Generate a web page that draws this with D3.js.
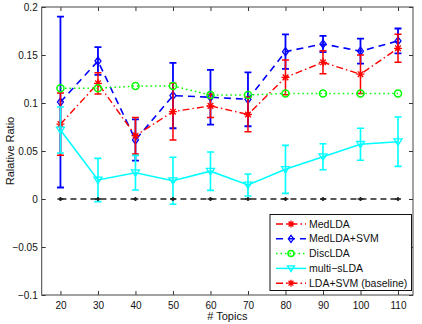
<!DOCTYPE html>
<html><head><meta charset="utf-8">
<script src="https://cdn.jsdelivr.net/npm/d3@7"></script>
<style>body{margin:0;background:#fff}svg{display:block;font-family:"Liberation Sans",Arial,sans-serif}</style>
</head><body><svg id="c" width="422" height="324"></svg>
<script>
const topics = [20,30,40,50,60,70,80,90,100,110];
const medlda = [0.078,0.1205,0.066,0.091,0.097,0.088,0.1267,0.1424,0.130,0.157];
const medldaErr = [0.0325,0.011,0.019,0.0295,0.012,0.018,0.018,0.012,0.02,0.0145];
const medsvm = [0.101,0.1437,0.0615,0.1077,0.106,0.1038,0.1535,0.1615,0.154,0.1646];
const medsvmErr = [0.089,0.0145,0.0215,0.034,0.0285,0.028,0.018,0.0085,0.013,0.013];
const disclda = [0.1153,0.1153,0.1177,0.1177,0.1083,0.1083,0.110,0.110,0.110,0.110];
const multislda = [0.0719,0.0198,0.0274,0.019,0.029,0.0146,0.0309,0.044,0.057,0.0597];
const multisldaErr = [0.024,0.0225,0.018,0.0245,0.02,0.0115,0.025,0.0135,0.0167,0.0257];
const baseline = [0,0,0,0,0,0,0,0,0,0];
const yTicks = [-0.1,-0.05,0,0.05,0.1,0.15,0.2];
const xTicks = topics;
const legendLabels = ["MedLDA","MedLDA+SVM","DiscLDA","multi\u2212sLDA","LDA+SVM (baseline)"];

const svg = d3.select("#c");
const L=41.7, R=413, T=7, B=295;
const x = d3.scaleLinear().domain([15,114]).range([L,R]);
const y = d3.scaleLinear().domain([-0.1,0.2]).range([B,T]);

const RED="#ff0000", BLUE="#0000ff", GREEN="#00ff00", CYAN="#00ffff";

const g = svg.append("g");
const fmt = v => (v<0?"\u2212":"") + String(Math.abs(v));
const yAxisL = d3.axisLeft(y).tickValues(yTicks).tickSize(-4).tickPadding(4).tickFormat(fmt);
const yAxisR = d3.axisRight(y).tickValues(yTicks).tickSize(-4).tickFormat("");
const xAxisB = d3.axisBottom(x).tickValues(xTicks).tickSize(-4).tickPadding(7);
const xAxisT = d3.axisTop(x).tickValues(xTicks).tickSize(-4).tickFormat("");
function style(sel){sel.select(".domain").remove();sel.selectAll("line").attr("stroke","#333");sel.selectAll("text").attr("font-size",10).attr("fill","#111").attr("font-family","Liberation Sans, Arial, sans-serif");}
g.append("g").attr("transform",`translate(${L},0)`).call(yAxisL).call(style);
g.append("g").attr("transform",`translate(${R},0)`).call(yAxisR).call(style);
g.append("g").attr("transform",`translate(0,${B})`).call(xAxisB).call(style);
g.append("g").attr("transform",`translate(0,${T})`).call(xAxisT).call(style);
g.append("rect").attr("x",L).attr("y",T).attr("width",R-L).attr("height",B-T).attr("fill","none").attr("stroke","#444").attr("stroke-width",1);

svg.append("text").attr("x",(L+R)/2).attr("y",320).attr("text-anchor","middle").attr("font-size",11).attr("fill","#111").text("# Topics");
svg.append("text").attr("transform",`translate(14,${(T+B)/2}) rotate(-90)`).attr("text-anchor","middle").attr("font-size",11).attr("fill","#111").text("Ralative Ratio");

const plot = svg.append("g");
function marker(sel, type, color, cx, cy, s){
  if(type==="star"){
    const r=s;
    const p=`M${cx-r},${cy}H${cx+r}M${cx},${cy-r}V${cy+r}M${cx-r*0.7},${cy-r*0.7}L${cx+r*0.7},${cy+r*0.7}M${cx-r*0.7},${cy+r*0.7}L${cx+r*0.7},${cy-r*0.7}`;
    sel.append("path").attr("d",p).attr("stroke",color).attr("stroke-width",1.3).attr("fill","none");
  } else if(type==="diamond"){
    sel.append("path").attr("d",`M${cx},${cy-s}L${cx+s*0.75},${cy}L${cx},${cy+s}L${cx-s*0.75},${cy}Z`).attr("stroke",color).attr("stroke-width",1.3).attr("fill","none");
  } else if(type==="circle"){
    sel.append("circle").attr("cx",cx).attr("cy",cy).attr("r",s).attr("stroke",color).attr("stroke-width",1.5).attr("fill","none");
  } else if(type==="tri"){
    sel.append("path").attr("d",`M${cx-s},${cy-s*0.7}L${cx+s},${cy-s*0.7}L${cx},${cy+s*0.9}Z`).attr("stroke",color).attr("stroke-width",1.3).attr("fill","none");
  } else if(type==="dot"){
    sel.append("path").attr("d",`M${cx-3},${cy}H${cx+3}M${cx},${cy-2}V${cy+2}`).attr("stroke",color).attr("stroke-width",1.5);
    sel.append("circle").attr("cx",cx).attr("cy",cy).attr("r",1.6).attr("fill",color);
  }
}
function series(vals, errs, color, dash, mtype, msize, lw, ew){
  const gg = plot.append("g");
  if(errs){
    topics.forEach((t,i)=>{
      const cx=x(t), y1=y(vals[i]+errs[i]), y2=y(vals[i]-errs[i]);
      gg.append("path").attr("d",`M${cx},${y1}V${y2}M${cx-3.5},${y1}H${cx+3.5}M${cx-3.5},${y2}H${cx+3.5}`).attr("stroke",color).attr("stroke-width",ew).attr("fill","none");
    });
  }
  const line = d3.line().x((d,i)=>x(topics[i])).y(d=>y(d));
  gg.append("path").attr("d",line(vals)).attr("stroke",color).attr("stroke-width",lw).attr("fill","none").attr("stroke-dasharray",dash);
  topics.forEach((t,i)=>marker(gg,mtype,color,x(t),y(vals[i]),msize));
}
const DASHDOT="7,3,1.5,3", DASH="7,5", DOT="1.5,3";
series(medsvm, medsvmErr, BLUE, DASH, "diamond", 4, 1.6, 1.8);
series(medlda, medldaErr, RED, DASHDOT, "star", 4, 1.4, 1.5);
series(multislda, multisldaErr, CYAN, null, "tri", 4, 1.6, 1.6);
series(disclda, null, GREEN, DOT, "circle", 3.5, 1.5, 1.5);
series(baseline, null, "#222", "6,4", "dot", 3, 1.5, 1.5);

const lg = svg.append("g");
lg.append("rect").attr("x",270).attr("y",214.5).attr("width",141.5).attr("height",76).attr("fill","#fff").attr("stroke","#111").attr("stroke-width",1);
const legendStyles = [
  [RED,DASHDOT,"star",3.5],[BLUE,DASH,"diamond",3.5],[GREEN,DOT,"circle",3],[CYAN,null,"tri",3.5],[RED,DASHDOT,"star",3.5]
];
legendLabels.forEach((lab,i)=>{
  const cy = 224 + i*14.8;
  const [c,d,m,s] = legendStyles[i];
  lg.append("line").attr("x1",276).attr("x2",306).attr("y1",cy).attr("y2",cy).attr("stroke",c).attr("stroke-width",1.5).attr("stroke-dasharray",d);
  marker(lg,m,c,291,cy,s);
  lg.append("text").attr("x",309).attr("y",cy+3.6).attr("font-size",10.5).attr("fill","#111").text(lab);
});
</script></body></html>
